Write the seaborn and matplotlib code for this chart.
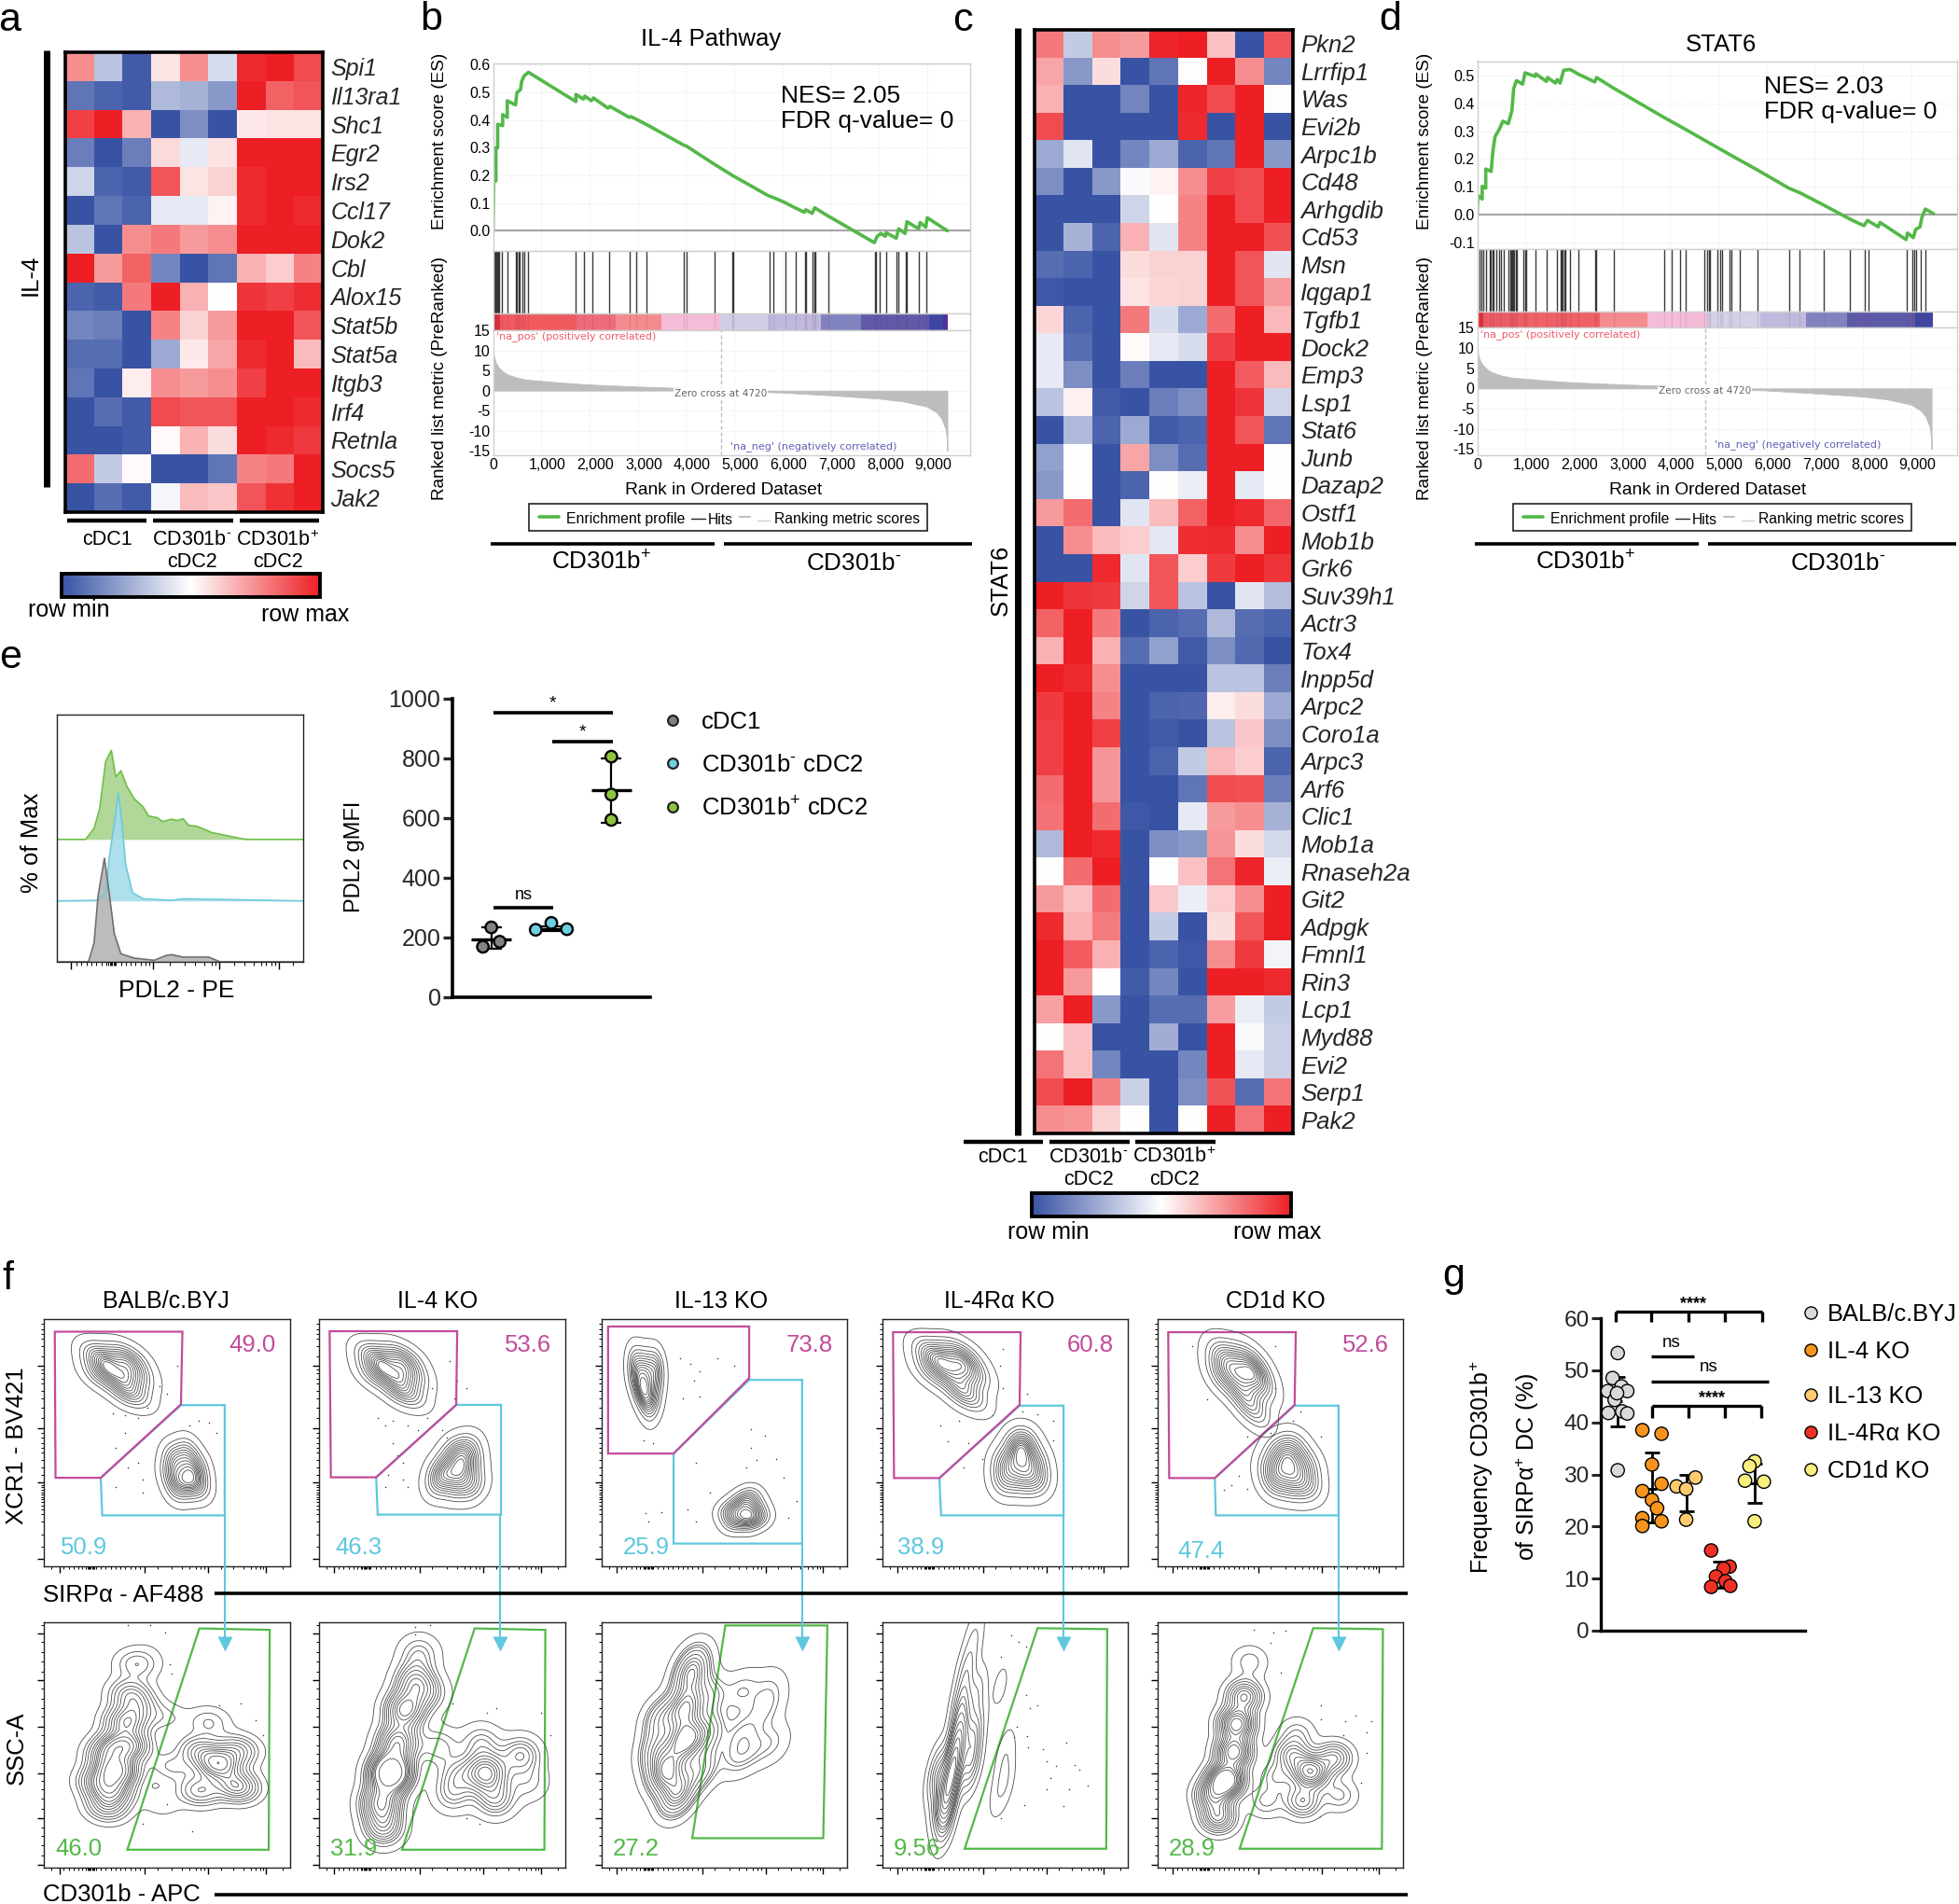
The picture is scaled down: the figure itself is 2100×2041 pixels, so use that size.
import numpy as np
import pandas as pd
import seaborn as sns
import matplotlib
matplotlib.use("Agg")
import matplotlib.pyplot as plt
from matplotlib.colors import LinearSegmentedColormap
from matplotlib.patches import Rectangle, Polygon
from matplotlib.transforms import ScaledTranslation

# ---- panel a
il4_genes = ["Spi1", "Il13ra1", "Shc1", "Egr2", "Irs2", "Ccl17", "Dok2", "Cbl", "Alox15", "Stat5b",
             "Stat5a", "Itgb3", "Irf4", "Retnla", "Socs5", "Jak2"]
il4_values = [
    [.5, -.35, -.95, .12, .5, -.2, .95, 1, .8],
    [-.8, -.9, -.95, -.4, -.45, -.6, 1, .7, .75],
    [.85, 1, .35, -1, -.65, -1, .1, .12, .12],
    [-.75, -1, -.75, .17, -.12, .13, 1, 1, 1],
    [-.25, -.9, -.95, .75, .12, .2, .95, 1, 1],
    [-1, -.8, -.9, -.12, -.12, .06, .95, 1, .95],
    [-.35, -1, .5, .6, .45, .5, 1, 1, 1],
    [1, .45, .7, -.7, -1, -.8, .35, .22, .55],
    [-.9, -.95, .6, 1, .35, 0, .9, .85, .93],
    [-.7, -.75, -1, .55, .2, .45, 1, 1, .75],
    [-.85, -.85, -1, -.5, .1, .4, .95, 1, .3],
    [-.8, -1, .08, .5, .45, .5, .85, 1, 1],
    [-1, -.85, -.95, .8, .75, .75, 1, 1, .95],
    [-1, -1, -.95, .03, .35, .15, 1, .95, .88],
    [.65, -.3, .03, -1, -1, -.8, .55, .6, 1],
    [-1, -.85, -.95, -.05, .3, .25, .75, .92, 1],
]

# ---- panel c
stat6_genes = ["Pkn2", "Lrrfip1", "Was", "Evi2b", "Arpc1b", "Cd48", "Arhgdib", "Cd53", "Msn", "Iqgap1",
               "Tgfb1", "Dock2", "Emp3", "Lsp1", "Stat6", "Junb", "Dazap2", "Ostf1", "Mob1b", "Grk6",
               "Suv39h1", "Actr3", "Tox4", "Inpp5d", "Arpc2", "Coro1a", "Arpc3", "Arf6", "Clic1", "Mob1a",
               "Rnaseh2a", "Git2", "Adpgk", "Fmnl1", "Rin3", "Lcp1", "Myd88", "Evi2", "Serp1", "Pak2"]
stat6_values = [
    [.6, -.3, .5, .45, .97, 1, .28, -1, .75],
    [.4, -.6, .15, -1, -.8, 0, 1, .5, -.7],
    [.35, -1, -1, -.7, -1, .97, .8, 1, .01],
    [.8, -1, -1, -1, -1, .95, -1, 1, -1],
    [-.5, -.15, -1, -.7, -.5, -.9, -.8, 1, -.6],
    [-.65, -1, -.6, -.03, .06, .5, .85, .8, 1],
    [-1, -1, -1, -.25, 0, .55, 1, .8, 1],
    [-1, -.45, -.9, .35, -.15, .55, 1, 1, .78],
    [-.85, -.9, -1, .15, .2, .2, 1, .75, -.15],
    [-.97, -1, -1, .12, .18, .2, 1, .75, .45],
    [.18, -.9, -1, .6, -.2, -.5, .65, 1, .32],
    [-.12, -.85, -1, .02, -.12, -.2, .85, 1, 1],
    [-.12, -.65, -1, -.75, -1, -1, 1, .72, .3],
    [-.35, .07, -.95, -1, -.75, -.65, 1, .9, -.25],
    [-1, -.4, -.9, -.5, -.95, -.9, 1, .75, -.8],
    [-.55, 0, -1, .4, -.65, -.85, 1, 1, 0],
    [-.6, 0, -1, -.9, .01, -.1, 1, -.13, 0],
    [.45, .65, -1, -.15, .3, .7, 1, .95, .68],
    [-1, .5, .3, .22, -.14, .93, .95, .5, 1],
    [-1, -1, .95, -.15, .75, .22, .87, 1, .9],
    [1, .9, .87, -.25, .75, -.35, -1, -.15, -.38],
    [.7, 1, .6, -1, -.9, -.85, -.4, -.85, -.9],
    [.35, 1, .35, -.85, -.55, -.95, -.65, -.87, -1],
    [1, .95, .5, -1, -1, -1, -.35, -.35, -.75],
    [.87, 1, .55, -1, -.9, -.88, .08, .15, -.5],
    [.85, 1, .85, -1, -.95, -1, -.35, .25, -.65],
    [.85, 1, .47, -1, -.9, -.3, .32, .22, -.9],
    [.65, 1, .47, -1, -1, -.8, .8, .78, -.75],
    [.63, 1, .65, -.97, -1, -.12, .45, .5, -.45],
    [-.4, 1, .95, -1, -.65, -.6, .47, .15, -.22],
    [0, .65, 1, -1, 0, .28, .62, .97, -.1],
    [.45, .28, .65, -1, .24, -.1, .22, .5, 1],
    [.95, .35, .58, -1, -.3, -1, .15, .75, 1],
    [1, .72, .35, -1, -.9, -.97, .5, .88, -.07],
    [1, .45, 0, -.95, -.7, -1, 1, 1, .95],
    [.42, 1, -.6, -1, -.85, -.85, .43, -.1, -.3],
    [0, .27, -1, -1, -.47, -1, 1, -.03, -.28],
    [.62, .28, -.7, -1, -1, -.7, 1, -.12, -.27],
    [.8, 1, .55, -.27, -1, -.65, .77, -.85, .62],
    [.5, .48, .2, 0, -1, .01, 1, .62, 1],
]

# ---- panel b
b_rank = [0, 15, 60, 60, 96, 96, 200, 200, 296, 296, 467, 496, 570, 593, 645, 734, 1719, 1719, 1875, 1904, 2038,
          2082, 2386, 2423, 2823, 2853, 2964, 3194, 3950, 4002, 4594, 4965, 5706, 5817, 6039, 6262, 6454, 6484,
          6617, 6669, 6951, 7907, 7966, 8040, 8136, 8151, 8359, 8411, 8544, 8581, 8825, 8855, 8973, 9003, 9420]
b_es = [0, .18, .18, .30, .30, .385, .38, .42, .41, .47, .455, .50, .51, .54, .56, .573, .467, .493, .476, .487, .47,
        .48, .443, .45, .41, .413, .404, .383, .31, .307, .24, .2, .127, .12, .103, .083, .067, .076,
        .063, .083, .053, -.043, -.02, -.01, -.02, -.007, -.027, .007, -.01, .033, .007, .03, .013, .047, 0]
b_hits = [10, 30, 50, 70, 90, 110, 130, 190, 300, 470, 500, 530, 560, 610, 640, 720, 1718, 1890, 2060, 2407, 2837,
          2970, 3190, 3960, 4007, 4600, 4963, 4985, 5726, 5815, 6060, 6274, 6467, 6480, 6630, 6660, 6680, 6948,
          7911, 7948, 8022, 8148, 8370, 8407, 8555, 8575, 8830, 8985]
b_bar_edges = [0, 150, 1719, 2540, 3497, 4718, 5700, 6796, 7630, 9037, 9330, 9420]
b_bar_colors = ["#e6333a", "#f05a5f", "#ee6b7c", "#f48b8e", "#f5bcd8", "#d0cee6", "#bfb9dd", "#8183bf",
                "#5f5aa8", "#3f46a2", "#50309a"]

# ---- panel d
d_rank = [0, 15, 104, 104, 178, 178, 289, 326, 370, 459, 534, 645, 719, 756, 815, 941, 993, 1200, 1215, 1437, 1460,
          1623, 1660, 1719, 1793, 1926, 2090, 2438, 2475, 2816, 3868, 4313, 5276, 5795, 6461, 6684, 7165, 7736,
          8018, 8092, 8314, 8351, 8892, 8922, 9040, 9092, 9181, 9218, 9292, 9463]
d_es = [0, .069, .056, .102, .095, .164, .155, .228, .28, .307, .336, .327, .373, .453, .482, .469, .51, .497, .506, .479, .493,
        .473, .486, .473, .519, .522, .506, .477, .493, .456, .35, .307, .212, .162, .095, .079, .036, -.017,
        -.04, -.021, -.044, -.028, -.09, -.066, -.083, -.053, -.044, -.011, .02, .003]
d_hits = [44, 89, 126, 185, 252, 289, 311, 333, 400, 445, 496, 548, 645, 682, 704, 726, 748, 771, 808, 830, 956, 993,
          1015, 1215, 1445, 1645, 1734, 1756, 1778, 1808, 1830, 1926, 2104, 2445, 2468, 2831, 3868, 4031, 4209,
          4313, 4705, 4772, 4802, 4831, 4979, 5031, 5075, 5238, 5268, 5446, 5816, 6467, 6690, 7186, 7734, 8038,
          8105, 8905, 9031, 9068, 9105, 9194, 9290]
d_bar_edges = [0, 130, 2534, 3520, 4742, 5868, 6817, 7662, 9077, 9448]
d_bar_colors = ["#e6333a", "#ef5f66", "#f48b8e", "#f5bcd8", "#d3d1e8", "#bfb9dd", "#8183bf", "#5f5aa8", "#3f46a2"]

metric_rank = [0, 20, 50, 100, 200, 300, 500, 700, 1000, 1500, 2000, 3000, 4000, 4720, 6000, 7000, 8000, 8500,
               9000, 9200, 9300, 9380, 9410, 9420]
metric_val = [10.5, 8.5, 7.2, 6, 4.8, 4, 3.2, 2.7, 2.4, 1.9, 1.5, 1, .6, 0, -.5, -1.2, -2, -2.7, -4, -5.5, -7, -9.5,
              -12, -15]
rank_ticks = [0, 1000, 2000, 3000, 4000, 5000, 6000, 7000, 8000, 9000]
metric_ticks = [15, 10, 5, 0, -5, -10, -15]

# ---- panel e
hist_green_x = [0, 11.6, 15.1, 17.4, 19.8, 22.1, 23.9, 26, 28.4, 31.4, 34.9, 37.2, 40.7, 43, 46.5, 48.8, 51.2, 53.5,
                57, 62.8, 72.1, 76.7, 100]
hist_green_y = [0, 0, 4.4, 12.6, 31.6, 36, 25.3, 27.8, 21.5, 16.4, 13.3, 9.5, 8.8, 7.2, 8.2, 7.6, 8.4, 5.7, 5.3,
                2.8, .9, 0, 0]
hist_blue_x = [0, 16.3, 19.8, 21.4, 23.3, 24.9, 26.3, 27.9, 30.7, 34.9, 46.5, 51.2, 100]
hist_blue_y = [0, .25, 3.4, 18.6, 31.2, 43.8, 32.4, 14.8, 3.4, .9, .25, .9, 0]
hist_grey_x = [0, 12.8, 15.1, 16.7, 19.3, 21.4, 23.3, 26, 31.4, 39.5, 44.2, 46.5, 51.2, 57, 61.6, 66.3, 100]
hist_grey_y = [0, 0, 7.6, 26.5, 41.9, 26.5, 11.4, 3.2, 1.5, .6, 2.5, 2.9, 1.9, 1.9, 1.9, 0, 0]

e_group = [0, 0, 0, 1, 1, 1, 2, 2, 2]
e_offset = [-.14, .14, 0, -.26, 0, .26, 0, 0, 0]
e_gmfi = [169, 186, 234, 226, 249, 228, 806, 679, 594]
e_mean = [195, 228, 695]
e_low = [163, 222, 585]
e_high = [234, 238, 800]
e_names = ["cDC1", r"CD301b$^{\text{-}}$ cDC2", "CD301b$^{+}$ cDC2"]
e_colors = ["#808285", "#6DCFE0", "#8CC63F"]

# ---- panel g
g_names = ["BALB/c.BYJ", "IL-4 KO", "IL-13 KO", "IL-4R\u03b1 KO", "CD1d KO"]
g_colors = ["#D9D9D9", "#F7941D", "#FDCB6E", "#EE3124", "#F9F07D"]
g_group = [0] * 11 + [1] * 10 + [2] * 4 + [3] * 7 + [4] * 5
g_offset = [0, -.15, .11, .28, -.29, -.09, -.02, .13, .28, -.27, 0,
            -.28, .28, 0, .28, -.28, 0, .15, -.28, -.28, .28,
            -.28, .27, 0, 0,
            -.27, .27, .09, -.13, .15, -.27, .29,
            0, -.15, .27, -.28, 0]
g_freq = [53.3, 48.5, 46.9, 46, 46, 44.3, 45.6, 42.1, 41.7, 41.8, 30.8,
          38.5, 37.8, 31.9, 28.2, 26.8, 25.1, 23.5, 21.6, 20.1, 21,
          27.7, 29.4, 27.2, 21.3,
          15.4, 12.3, 11.9, 10.4, 9.5, 8.4, 8.6,
          32.5, 31.6, 28.6, 28.8, 21]
g_mean = [44, 27.3, 26.4, 10.7, 28.3]
g_low = [39.2, 20.7, 22.9, 8.3, 24.6]
g_high = [48.8, 34.2, 30, 13.2, 32]

# ---- panel f (everything in percent of each plot box)
f_names = ["BALB/c.BYJ", "IL-4 KO", "IL-13 KO", "IL-4R\u03b1 KO", "CD1d KO"]
f_xcr1_pct = ["49.0", "53.6", "73.8", "60.8", "52.6"]
f_sirpa_pct = ["50.9", "46.3", "25.9", "38.9", "47.4"]
f_cd301_pct = ["46.0", "31.9", "27.2", "9.56", "28.9"]

top_a_x = [[21, 25, 31, 36, 22, 27, 33, 38, 32, 37], [21, 25, 31, 36, 22, 27, 33, 38, 32, 37],
           [14, 18, 22, 14, 18, 22, 17, 21, 19, 16], [19, 23, 29, 34, 20, 26, 32, 37, 31, 36],
           [26, 30, 36, 40, 26, 32, 37, 42, 35, 40]]
top_a_y = [[85, 84, 85, 83, 78, 78, 77, 77, 71, 70], [85, 84, 85, 83, 78, 78, 77, 77, 71, 70],
           [83, 82, 82, 77, 76, 76, 70, 69, 65, 72], [86, 85, 86, 84, 79, 79, 78, 78, 71, 69],
           [84, 84, 83, 80, 77, 76, 75, 74, 68, 63]]
top_b_x = [[53, 58, 52, 58, 62, 54, 58.5, 63], [55, 60, 50, 56, 61, 49, 56, 62],
           [60, 56, 62, 52, 58, 64, 54, 60], [55, 58, 50, 56, 62, 50, 57, 63],
           [50, 55, 47, 54, 60, 48, 55, 61]]
top_b_y = [[44, 46, 38, 38, 40, 32, 33, 33], [46, 47, 39, 39, 41, 34, 33, 33],
           [28, 25, 24, 22, 21, 20, 18, 18], [49, 49, 42, 42, 42, 35, 35, 35],
           [46, 48, 40, 40, 41, 34, 33, 33]]
top_dots_x = [[28, 33, 38, 42, 47, 50, 54, 59, 63, 67, 70, 29, 33, 38, 40, 29, 40, 34],
              [24, 27, 30, 36, 40, 44, 50, 52, 30, 32, 28, 34, 36, 27, 34, 56, 55, 60, 46, 53],
              [32, 36, 47, 54, 40, 37.5, 33, 40, 21, 17, 61, 66.5, 61, 38.5, 59, 63, 71, 74, 44, 35, 18, 24.5, 38.5, 19, 79.5, 76],
              [49, 48, 49, 23.5, 31, 45, 26.7, 35, 33, 59, 63, 57, 69.5, 69.5, 40.5],
              [14, 48, 48, 20, 36.5, 55, 58, 33, 30, 36.5, 27, 66.5, 46]]
top_dots_y = [[62, 61, 60, 64, 73, 70, 81, 57, 59, 58, 54, 48, 54, 42, 35, 32, 30, 40],
              [60, 57, 59, 57, 55, 60, 55, 52, 50, 45, 37, 35, 32, 32, 42, 75, 68, 72, 72, 83],
              [84, 82, 84, 81, 79, 75, 68, 68.5, 50, 51, 55.5, 53, 48, 42, 40, 43, 43.5, 36, 30, 23, 21.5, 22, 18, 18, 26.5, 19.5],
              [88, 81, 72, 57, 59, 61, 50.5, 50, 40, 70, 61.5, 62.5, 59, 51, 43.5],
              [89, 89, 72, 67.5, 52.5, 59, 62.5, 36.5, 33, 31.5, 31, 52.5, 54]]

bot_x = [[25.5, 27.4, 29.3, 30.3, 33.2, 35.1, 37, 25.5, 22, 36, 38, 40, 48, 55,
          70.8, 63.1, 78.6, 78.6, 63.1, 51.5, 67, 49.6, 47.7],
         [26.1, 25.1, 29, 31.9, 34.8, 38.7, 40.6, 44.5, 67.7, 56.1, 82, 65.8, 71.6, 54.2, 85.1, 48.4],
         [34, 34, 36, 30, 27, 24, 22, 25, 40, 43, 44, 38, 32,
          57, 68, 66, 57, 70, 55, 70, 62],
         [28.8, 26.7, 25.6, 31, 32, 34.2, 37.4, 22.4, 24, 36, 37, 38, 50, 50, 47, 48],
         [24.6, 27.8, 31, 32.1, 35.3, 37.5, 22.4, 62.3, 54.7, 72, 59, 44, 74.1, 56.9, 48.3]]
bot_y = [[24.7, 31.3, 39.5, 49.4, 59.3, 70.8, 82.4, 46, 35, 50, 65, 85, 95, 97,
          42, 47.8, 47.8, 33, 31.3, 41.2, 59.3, 61, 26.4],
         [16.5, 26.4, 38.7, 51, 64.3, 75.8, 87.3, 70.8, 38.7, 37.9, 46, 51, 28, 29.7, 34.6, 49.4],
         [52, 65, 78, 28, 38, 61, 48, 40, 40, 55, 70, 85, 32,
          72, 75, 64, 55, 51, 45, 70, 48],
         [40.9, 29.5, 19.4, 53.5, 66.2, 80.1, 94, 38.4, 28, 42, 54, 70, 46, 34.6, 30, 74],
         [20.6, 35.8, 47.2, 58.6, 69.9, 83.9, 29.5, 39, 46, 44.7, 27, 27, 29.5, 54.8, 37]]
bot_w = [[2, 3, 5, 3, 3, 2, 1, 2, 2, 2, 1.5, .4, .15, .1, 4, 2, 2, 3, 2, 1, 1, .7, .5],
         [2, 3, 6, 3, 3, 2, 1, 1, 3, 1, 1.5, 1, 1.5, 1, .7, 1],
         [6, 5, 4, 3, 3, 3, 3, 3, 3, 3, 2, 2, 2, 1.5, .7, 1.2, 1.5, 1.2, 1.5, .6, 1],
         [6, 4, 2, 4, 2, 1.2, .6, 2, 2, 2, 2, 1, .5, .5, .3, .3],
         [2, 4, 3, 3, 2, .6, 2, 3, 1.5, 1.5, 1.5, .7, .7, .6, .8]]
bot_adjust = [.45, .42, .6, .6, .42]
bot_dots_x = [[34, 43, 49, 52, 51, 71, 80, 86, 89, 40, 60, 50],
              [39, 45, 39, 56, 54, 68, 72, 90, 94, 60, 65],
              [],
              [52.5, 55.7, 58.5, 48.2, 58.5, 60, 63.2, 54.6, 53.5, 58.9, 59.4, 75, 65.4, 67.1, 70.8, 78.3, 80.4, 68.6, 76.1, 83.6, 67.1, 57.8, 73.6, 48.2],
              [39, 47, 52, 46, 50, 66.6, 66.6, 76.3, 80.6, 87, 75.6, 85, 85, 83, 66]]
bot_dots_y = [[99, 99, 96, 79, 83, 66, 67, 60, 54, 18, 15, 26],
              [98, 99, 95, 76, 67, 63, 65, 63, 54, 20, 18],
              [],
              [94.7, 92.1, 90.2, 85.8, 70.3, 65, 66.2, 57.3, 53.2, 53.6, 49, 50.9, 48.2, 43.4, 41.4, 42, 40, 36.4, 32, 33.3, 32, 25.4, 25, 20],
              [97, 96, 96.6, 91.5, 79.5, 66, 60.5, 59.6, 62, 59.6, 54, 55, 46.6, 34.6, 21]]

gate_pink = [[(4.3, 94.9), (56.2, 94.9), (55.6, 65.5), (23, 35.8), (4.6, 35.8)],
             [(4.3, 95.1), (56.1, 95.1), (55.7, 65.3), (23.2, 36), (4.8, 36)],
             [(2.6, 97), (60.1, 97), (60.1, 76.1), (29.3, 45.6), (2.6, 45.6)],
             [(4.3, 94.7), (56.3, 94.7), (55.9, 65.3), (23.2, 35.7), (4.7, 35.7)],
             [(4.3, 94.7), (56.3, 94.7), (55.8, 65.3), (23.3, 35.7), (4.7, 35.7)]]
gate_cyan = [[(23, 35.8), (55.6, 65.2), (73.4, 65.2), (73.4, 20.6), (23.6, 20.6)],
             [(23.2, 36), (55.7, 65.3), (73.9, 65.3), (73.9, 20.9), (23.8, 20.9)],
             [(29.3, 45.6), (60.1, 75.4), (81.7, 75.4), (81.7, 9.2), (29.3, 9.2)],
             [(23.2, 35.7), (55.9, 65), (73.8, 65), (73.8, 20.6), (23.9, 20.6)],
             [(23.3, 35.7), (55.8, 65), (73.7, 65), (73.7, 20.6), (23.7, 20.6)]]
gate_green = [[(63.1, 97.5), (91.7, 96.9), (91.3, 7.3), (33.8, 7.3)],
              [(63.2, 97.5), (91.9, 96.9), (91.5, 7.3), (33.7, 7.3)],
              [(50.4, 98.7), (92, 98.7), (90.3, 12), (36.9, 12)],
              [(63.2, 97.6), (91.6, 97.2), (91.2, 7.7), (33.5, 7.7)],
              [(63.4, 97.6), (91.8, 97.2), (91.4, 7.7), (33.4, 7.7)]]

sns.set_theme(style="white")
plt.rcParams["font.family"] = ["Liberation Sans", "DejaVu Sans"]
plt.rcParams["mathtext.fontset"] = "custom"
plt.rcParams["mathtext.rm"] = "Liberation Sans"
plt.rcParams["mathtext.it"] = "Liberation Sans:italic"
plt.rcParams["mathtext.default"] = "regular"

W, H = 2100, 2041
fig = plt.figure(figsize=(W / 100, H / 100), dpi=100)
GREEN = "#53B848"
PINK = "#C24B9B"
CYAN = "#5DC8DE"
morpheus = LinearSegmentedColormap.from_list("morpheus", ["#3953A4", "#FFFFFF", "#ED1F24"])


def axpx(x0, y0, x1, y1, **kw):
    return fig.add_axes([x0 / W, 1 - y1 / H, (x1 - x0) / W, (y1 - y0) / H], **kw)


# overlay in pixels, for labels and the small furniture around the panels
ov = fig.add_axes([0, 0, 1, 1], zorder=20)
ov.set_xlim(0, W)
ov.set_ylim(H, 0)
ov.axis("off")


def txt(x, y, s, size=18, ha="center", rot=0, color="black", **kw):
    if rot == 0:
        y = y + 2
    ov.text(x, y, s, fontsize=size, ha=ha, va="center", rotation=rot, color=color, **kw)


def bar(x0, x1, y, lw=3, color="black"):
    ov.plot([x0, x1], [y, y], color=color, lw=lw, solid_capstyle="butt")


def draw_heat(box, cbox, values, genes, size):
    ax = axpx(*box)
    cax = axpx(*cbox)
    df = pd.DataFrame(values, index=genes)
    sns.heatmap(df, cmap=morpheus, vmin=-1, vmax=1, ax=ax, cbar_ax=cax, xticklabels=False, yticklabels=genes,
                cbar_kws={"orientation": "horizontal", "ticks": []})
    ax.yaxis.tick_right()
    ax.tick_params(axis="y", length=0, pad=6, rotation=0)
    for lab in ax.get_yticklabels():
        lab.set_fontsize(size)
        lab.set_fontstyle("italic")
    for s in ax.spines.values():
        s.set_visible(True)
        s.set_linewidth(2.6)
        s.set_color("black")
    cb = ax.collections[0].colorbar
    cb.outline.set_linewidth(2.8)
    cb.outline.set_edgecolor("black")


draw_heat((70, 56, 346, 549), (66, 615, 343, 640), il4_values, il4_genes, 18)
draw_heat((1109, 32, 1386, 1215), (1106, 1279, 1384, 1304), stat6_values, stat6_genes, 18.5)

ov.plot([50, 50], [54, 522], color="black", lw=5, solid_capstyle="butt")
txt(33, 295, "IL-4", 18.5, rot=90)
for a, b_ in [(72, 157), (164, 250), (257, 342)]:
    bar(a, b_, 558, lw=3.2)
txt(115, 577, "cDC1", 15.5)
txt(206, 577, r"CD301b$^{\text{-}}$", 15.5)
txt(206, 600, "cDC2", 15.5)
txt(298, 577, "CD301b$^{+}$", 15.5)
txt(298, 600, "cDC2", 15.5)
txt(74, 652, "row min", 18)
txt(327, 657, "row max", 18)

ov.plot([1091, 1091], [30, 1217], color="black", lw=5, solid_capstyle="butt")
txt(1073, 622, "STAT6", 18.5, rot=90)
for a, b_ in [(1033, 1118), (1125, 1211), (1217, 1303)]:
    bar(a, b_, 1224, lw=3.2)
txt(1075, 1238, "cDC1", 15.5)
txt(1167, 1238, r"CD301b$^{\text{-}}$", 15.5)
txt(1167, 1262, "cDC2", 15.5)
txt(1259, 1238, "CD301b$^{+}$", 15.5)
txt(1259, 1262, "cDC2", 15.5)
txt(1124, 1319, "row min", 18)
txt(1369, 1319, "row max", 18)


def gsea_frame(ax):
    for s in ax.spines.values():
        s.set_color("#cfcfcf")
        s.set_linewidth(1)
    ax.grid(True, color="#e2e2e2", lw=.7, ls=(0, (1, 2)))
    ax.tick_params(length=0, labelsize=11.5, pad=2, colors="black")


def draw_gsea(x0, x1, ytop, y1, y2, y3, ybot, ylim_es, es_ticks, xmax, mlim, rank, es, hits, edges, colors):
    a1 = axpx(x0, ytop, x1, y1)
    a2 = axpx(x0, y1, x1, y2)
    a3 = axpx(x0, y2, x1, y3)
    a4 = axpx(x0, y3, x1, ybot)
    for a in (a1, a2, a3, a4):
        a.set_xlim(0, xmax)
        gsea_frame(a)
    sns.lineplot(x=rank, y=es, sort=False, estimator=None, color=GREEN, lw=2.6, ax=a1)
    a1.axhline(0, color="#a8a8a8", lw=1.6, zorder=1)
    a1.set_ylim(*ylim_es)
    a1.set_yticks(es_ticks)
    a1.set_yticklabels(["%.1f" % t for t in es_ticks])
    a1.set_xticks(rank_ticks)
    a1.tick_params(labelbottom=False)
    sns.rugplot(x=hits, height=1, ax=a2, color="#2e2e2e", lw=1.3, alpha=.95, expand_margins=False)
    a2.set_xlim(0, xmax)
    a2.set_ylim(0, 1)
    a2.set_xticks(rank_ticks)
    a2.set_yticks([])
    a2.tick_params(labelbottom=False)
    a3.grid(False)
    for i, c in enumerate(colors):
        a3.axvspan(edges[i], edges[i + 1], color=c, lw=0)
    a3.vlines(hits, 0, 1, color="#7a2040", lw=1, alpha=.12)
    a3.set_ylim(0, 1)
    a3.set_xticks([])
    a3.set_yticks([])
    a4.fill_between(metric_rank, metric_val, 0, color="#bdbdbd", lw=.6)
    a4.axvline(4720, color="#bdbdbd", lw=1, ls=(0, (3, 2)))
    a4.set_ylim(*mlim)
    a4.set_yticks(metric_ticks)
    a4.set_yticklabels([str(t) for t in metric_ticks])
    a4.set_xticks(rank_ticks)
    a4.set_xticklabels(["{:,}".format(t) for t in rank_ticks])
    shift = ScaledTranslation(6.7 / 100, 0, fig.dpi_scale_trans)
    for lab in a4.get_xticklabels()[1:]:
        lab.set_transform(lab.get_transform() + shift)
    a4.text(60, 13.4, "'na_pos' (positively correlated)", color="#ee5a6a", fontsize=8, va="center",
            family="DejaVu Sans")
    a4.text(4720, -.7, "Zero cross at 4720", color="#666666", fontsize=7.6, va="center", ha="center",
            family="DejaVu Sans", bbox=dict(fc="white", ec="none", pad=.6))
    a4.text(4928, -13.8, "'na_neg' (negatively correlated)", color="#5f5fb5", fontsize=8, va="center",
            family="DejaVu Sans")


draw_gsea(528.5, 1040, 68, 269, 336, 354, 488, (-.073, .605), [0, .1, .2, .3, .4, .5, .6], 9893, (-16.1, 14.75),
          b_rank, b_es, b_hits, b_bar_edges, b_bar_colors)
draw_gsea(1583.5, 2098, 65.5, 267, 334, 351, 488, (-.124, .552), [-.1, 0, .1, .2, .3, .4, .5], 9950, (-16.5, 15.07),
          d_rank, d_es, d_hits, d_bar_edges, d_bar_colors)


def gsea_text(dx, ylab_x, title_x, title_y, title, nes, nes_x, nes_y):
    txt(ylab_x, 151, "Enrichment score (ES)", 13.6, rot=90)
    txt(ylab_x, 405, "Ranked list metric (PreRanked)", 13.6, rot=90)
    txt(title_x, title_y, title, 18.5)
    txt(nes_x, nes_y, "NES= " + nes, 19, ha="left")
    txt(nes_x, nes_y + 27, "FDR q-value= 0", 19, ha="left")
    txt(776 + dx, 524, "Rank in Ordered Dataset", 13.8)
    ov.add_patch(Rectangle((567 + dx, 540), 427, 29, fc="white", ec="#222222", lw=1.2))
    ov.plot([578 + dx, 599 + dx], [554, 554], color=GREEN, lw=2.6)
    txt(607 + dx, 554, "Enrichment profile", 11.3, ha="left")
    ov.plot([741 + dx, 756 + dx], [556, 556], color="#222222", lw=1)
    txt(759 + dx, 556, "Hits", 11.3, ha="left")
    ov.plot([793 + dx, 804 + dx], [554, 554], color="#bdbdbd", lw=1.4)
    ov.plot([812 + dx, 825 + dx], [558, 558], color="#d0d0d0", lw=1)
    txt(830 + dx, 555, "Ranking metric scores", 11.3, ha="left")
    bar(526 + dx, 766 + dx, 583, lw=2.6)
    bar(776 + dx, 1042 + dx, 583, lw=2.6)
    txt(645 + dx, 601, "CD301b$^{+}$", 18.7)
    txt(915 + dx, 602, r"CD301b$^{\text{-}}$", 18.7)


gsea_text(0, 472, 762, 40, "IL-4 Pathway", "2.05", 837, 101)
gsea_text(1055, 1527, 1845, 46, "STAT6", "2.03", 1891, 91)

# ---- panel e, histogram
ah = axpx(61, 766, 325, 1031)
for xs, ys, base, fill, line in [(hist_green_x, hist_green_y, 49.5, "#A9D38E", "#6DBE45"),
                                 (hist_blue_x, hist_blue_y, 24.6, "#A5DCEA", "#6CC9DD"),
                                 (hist_grey_x, hist_grey_y, 0, "#B5B5B5", "#6f6f6f")]:
    xs = np.array(xs)
    ys = np.array(ys) + base
    ah.fill_between(xs, base, ys, color=fill, alpha=.9, lw=0)
    sns.lineplot(x=xs, y=ys, sort=False, estimator=None, color=line, lw=1.2, ax=ah)
ah.set_xlim(0, 100)
ah.set_ylim(0, 100)
ah.set_yticks([])
ah.set_xticks([5.8, 39, 66, 90])
ah.set_xticks([8, 10, 12, 14, 16, 18, 20, 21, 21.5, 22, 22.5, 23, 23.5, 24, 26, 28, 30, 32, 34, 36, 37.5, 46, 52,
               56, 60, 63, 64.5, 72, 76, 80, 83, 85, 87, 88.5, 96], minor=True)
ah.tick_params(axis="x", which="major", length=6, width=1, labelbottom=False, bottom=True, color="black")
ah.tick_params(axis="x", which="minor", length=3, width=.7, bottom=True, color="black")
for s in ah.spines.values():
    s.set_color("#222222")
    s.set_linewidth(1)
txt(34, 903, "% of Max", 18.5, rot=90)
txt(189, 1060, "PDL2 - PE", 19)

# ---- panel e, dots
ae = axpx(485, 749, 697, 1069)
e_df = pd.DataFrame({"x": np.array(e_group) + np.array(e_offset), "gmfi": e_gmfi,
                     "group": [e_names[g] for g in e_group]})
ae.errorbar(range(3), e_mean, yerr=[np.array(e_mean) - e_low, np.array(e_high) - e_mean], fmt="none",
            ecolor="black", elinewidth=1.6, capsize=8, capthick=1.6, zorder=2)
ae.hlines(e_mean, np.arange(3) - .33, np.arange(3) + .33, color="black", lw=2.4, zorder=2)
sns.scatterplot(data=e_df, x="x", y="gmfi", hue="group", palette=dict(zip(e_names, e_colors)), s=80,
                edgecolor="black", linewidth=1.7, legend=False, ax=ae, zorder=3, clip_on=False)
ae.hlines([953, 856, 299], [0.03, 1.02, 0.03], [2.02, 2.02, 1.03], color="black", lw=2.6)
ae.set_xlim(-.648, 2.648)
ae.set_ylim(0, 1000)
ae.set_xlabel("")
ae.set_ylabel("")
ae.set_xticks([])
ae.set_yticks([0, 200, 400, 600, 800, 1000])
ae.tick_params(axis="y", length=7, width=2.4, labelsize=18, left=True, pad=2)
sns.despine(ax=ae)
ae.spines["left"].set_linewidth(2.6)
ae.spines["bottom"].set_linewidth(2.6)
ae.spines["left"].set_color("black")
ae.spines["bottom"].set_color("black")
txt(380, 918, "PDL2 gMFI", 17, rot=90)
txt(592, 752, "*", 14)
txt(624, 783, "*", 14)
txt(561, 958, "ns", 13)
for y, name, c in zip([772, 818, 865], e_names, e_colors):
    ov.scatter([721], [y], s=60, color=c, edgecolor="#222222", linewidth=1.6)
    txt(752, y, name, 18.5, ha="left")

# ---- panel g
ag = axpx(1716, 1413, 1935, 1748)
g_df = pd.DataFrame({"x": np.array(g_group) + np.array(g_offset), "freq": g_freq,
                     "group": [g_names[g] for g in g_group]})
ag.errorbar(range(5), g_mean, yerr=[np.array(g_mean) - g_low, np.array(g_high) - g_mean], fmt="none",
            ecolor="black", elinewidth=2, capsize=5.5, capthick=2, zorder=2)
ag.hlines(g_mean, np.arange(5) - .13, np.arange(5) + .13, color="black", lw=2, zorder=2)
sns.scatterplot(data=g_df, x="x", y="freq", hue="group", palette=dict(zip(g_names, g_colors)), s=105,
                edgecolor="black", linewidth=1, legend=False, ax=ag, zorder=3, clip_on=False)
br_top = [-.07, .99, 2.06, 3.13, 4.22]
br_low = [1, 2.06, 3.12, 4.2]
ag.hlines(61.3, br_top[0], br_top[-1], color="black", lw=2.4, clip_on=False)
ag.vlines(br_top, 59.2, 61.3, color="black", lw=2.4, clip_on=False)
ag.hlines(43.1, br_low[0], br_low[-1], color="black", lw=2.4)
ag.vlines(br_low, 40.9, 43.1, color="black", lw=2.4)
ag.hlines([52.7, 47.8], [.98, .98], [2.22, 4.42], color="black", lw=2.4)
ag.set_xlim(-.495, 5.475)
ag.set_ylim(0, 60)
ag.set_xlabel("")
ag.set_ylabel("")
ag.set_xticks([])
ag.set_yticks(range(0, 61, 10))
ag.tick_params(axis="y", length=7, width=2.2, labelsize=17.6, left=True, pad=2)
sns.despine(ax=ag)
for sp in ("left", "bottom"):
    ag.spines[sp].set_linewidth(2.4)
    ag.spines[sp].set_color("black")
txt(1588, 1573, "Frequency CD301b$^{+}$", 18, rot=90)
txt(1637, 1572, "of SIRP\u03b1$^{+}$ DC (%)", 18, rot=90)
txt(1815, 1396, "****", 13, fontweight="bold")
txt(1835, 1497, "****", 13, fontweight="bold")
txt(1792, 1438, "ns", 13.5)
txt(1832, 1464, "ns", 13.5)
for y, name, c in zip([1407, 1447, 1495, 1535, 1575], g_names, g_colors):
    ov.scatter([1941], [y], s=90, color=c, edgecolor="black", linewidth=1)
    txt(1959, y, name, 18.4, ha="left")

# ---- panel f
col_x = [(47.4, 311), (342, 606), (645, 908), (946, 1209), (1241, 1504)]
title_x = [178, 469, 773, 1071, 1367]
cyan_y = [(16, 8.3), (16, 8.3), (18.1, 8.2), (15.5, 8.3), (17.7, 6.7)]
arrow_x = [241, 536, 860, 1140, 1435]
arrow_y0 = [1624, 1624, 1654, 1624, 1624]
x_major = [6.2, 41, 66.8, 90]
x_minor = [3, 8, 10, 12, 14, 15.5, 17, 17.5, 18, 18.5, 19, 19.5, 20, 20.5, 21, 23, 25, 27, 29, 31, 33, 35, 37, 39, 46, 52,
           56, 59, 61.5, 63.5, 65, 72, 77, 81, 84, 86, 88, 89, 97]
top_y_major = [3, 34, 56, 81]
top_y_minor = [8, 13, 18, 21, 23, 24.5, 26, 27, 28, 29, 30, 31, 32, 33, 37, 40, 43, 46, 48, 50, 52, 54, 60, 64, 68,
               71, 74, 76, 78, 79.5, 85, 89, 92, 94, 96, 98]
bot_y_major = [1, 20, 38.5, 57.5, 76.5, 95.5]
bot_y_minor = [5, 9, 13, 16.5, 24, 28, 32, 35.5, 42.5, 46.5, 50, 54, 61.5, 65, 69, 73, 80, 84, 88, 92, 99]


def flow_frame(ax, y_major, y_minor):
    ax.set_xlim(0, 100)
    ax.set_ylim(0, 100)
    ax.set_xlabel("")
    ax.set_ylabel("")
    ax.set_xticks(x_major)
    ax.set_xticks(x_minor, minor=True)
    ax.set_yticks(y_major)
    ax.set_yticks(y_minor, minor=True)
    ax.tick_params(which="major", length=5, width=1, labelbottom=False, labelleft=False, left=True, bottom=True,
                   color="black")
    ax.tick_params(which="minor", length=2.5, width=.7, left=True, bottom=True, color="black")
    for s in ax.spines.values():
        s.set_color("#222222")
        s.set_linewidth(1)


def flow_kde(ax, x, y, w=None, adjust=1.0, thresh=.03):
    sns.kdeplot(x=x, y=y, weights=w, levels=14, thresh=thresh, bw_adjust=adjust, color="#4d4d4d", linewidths=.6,
                ax=ax)


for i, (xa, xb) in enumerate(col_x):
    at = axpx(xa, 1414, xb, 1679)
    flow_kde(at, top_a_x[i], top_a_y[i], adjust=1.1, thresh=.02)
    flow_kde(at, top_b_x[i], top_b_y[i], adjust=1.1, thresh=.02)
    at.scatter(top_dots_x[i], top_dots_y[i], s=1.2, color="#333333", lw=0)
    at.add_patch(Polygon(gate_cyan[i], closed=True, fill=False, ec=CYAN, lw=1.6))
    at.add_patch(Polygon(gate_pink[i], closed=True, fill=False, ec=PINK, lw=1.6))
    flow_frame(at, top_y_major, top_y_minor)
    at.text(84.8, 89.5, f_xcr1_pct[i], color=PINK, fontsize=18.5, ha="center", va="center")
    at.text(cyan_y[i][0], cyan_y[i][1] - .7, f_sirpa_pct[i], color=CYAN, fontsize=18.5, ha="center", va="center")

    ab = axpx(xa, 1739, xb, 2002)
    flow_kde(ab, bot_x[i], bot_y[i], bot_w[i], adjust=bot_adjust[i])
    if bot_dots_x[i]:
        ab.scatter(bot_dots_x[i], bot_dots_y[i], s=1.2, color="#333333", lw=0)
    ab.add_patch(Polygon(gate_green[i], closed=True, fill=False, ec=GREEN, lw=1.6))
    flow_frame(ab, bot_y_major, bot_y_minor)
    ab.text(14, 7.6, f_cd301_pct[i], color=GREEN, fontsize=18.5, ha="center", va="center")

    txt(title_x[i], 1393, f_names[i], 18)
    ov.plot([arrow_x[i], arrow_x[i]], [arrow_y0[i], 1758], color=CYAN, lw=1.5)
    ov.plot([arrow_x[i]], [1762], marker="v", ms=11, color=CYAN, mec="none")

txt(18, 1550, "XCR1 - BV421", 18.5, rot=90)
txt(18, 1874, "SSC-A", 18.5, rot=90)
txt(46, 1708, "SIRP\u03b1 - AF488", 18.5, ha="left")
txt(46, 2029, "CD301b - APC", 18.5, ha="left")
bar(230, 1509, 1708, lw=2.6)
bar(230, 1509, 2031, lw=2.6)

# ---- panel letters
for x, y, s in [(10, 20, "a"), (462, 19, "b"), (1032, 20, "c"), (1490, 19, "d"), (11, 703, "e"), (8, 1369, "f"),
                (1558, 1366, "g")]:
    txt(x, y, s, 31)

fig.savefig("out.png", dpi=100)
